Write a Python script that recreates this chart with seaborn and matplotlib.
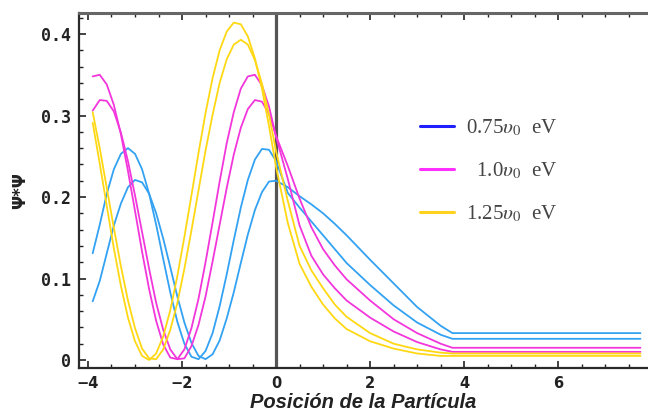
import numpy as np
import pandas as pd
import seaborn as sns
import matplotlib
matplotlib.use("Agg")
import matplotlib.pyplot as plt
from matplotlib.lines import Line2D
from matplotlib.ticker import MultipleLocator, FuncFormatter

# Positions (inside the well, then the decaying tail and the flat end)
x_pos = [-3.90, -3.75, -3.60, -3.45, -3.30, -3.15, -3.00, -2.85, -2.70, -2.55,
         -2.40, -2.25, -2.10, -1.95, -1.80, -1.65, -1.50, -1.35, -1.20, -1.05,
         -0.90, -0.75, -0.60, -0.45, -0.30, -0.15, 0.00,
         0.25, 0.50, 0.75, 1.00, 1.25, 1.50, 2.00, 2.50, 3.00, 3.50, 3.75, 7.75]

# Probability density for E = 0.75 u0
blue_a = [0.131, 0.166, 0.204, 0.234, 0.253, 0.260, 0.253, 0.234, 0.204, 0.166,
          0.124, 0.083, 0.047, 0.020, 0.004, 0.001, 0.011, 0.033, 0.066, 0.105,
          0.147, 0.187, 0.221, 0.246, 0.259, 0.258, 0.244,
          0.205, 0.187, 0.170, 0.153, 0.136, 0.119, 0.092, 0.067, 0.046, 0.031, 0.026, 0.026]
blue_b = [0.072, 0.097, 0.131, 0.165, 0.192, 0.212, 0.221, 0.218, 0.204, 0.180,
          0.149, 0.114, 0.078, 0.046, 0.021, 0.005, 0.001, 0.007, 0.024, 0.051,
          0.083, 0.119, 0.154, 0.184, 0.206, 0.219, 0.220,
          0.212, 0.201, 0.191, 0.180, 0.167, 0.153, 0.123, 0.094, 0.065, 0.042, 0.033, 0.033]

# Probability density for E = 1.0 u0
pink_a = [0.348, 0.350, 0.338, 0.313, 0.277, 0.232, 0.183, 0.133, 0.087, 0.048,
          0.019, 0.003, 0.001, 0.013, 0.039, 0.075, 0.120, 0.169, 0.219, 0.266,
          0.304, 0.333, 0.348, 0.350, 0.337, 0.311, 0.274,
          0.222, 0.165, 0.128, 0.105, 0.088, 0.073, 0.052, 0.035, 0.022, 0.013, 0.010, 0.010]
pink_b = [0.306, 0.319, 0.318, 0.305, 0.279, 0.244, 0.202, 0.157, 0.112, 0.070,
          0.037, 0.013, 0.001, 0.002, 0.017, 0.043, 0.078, 0.121, 0.166, 0.211,
          0.252, 0.285, 0.308, 0.319, 0.317, 0.302, 0.275,
          0.238, 0.198, 0.163, 0.136, 0.116, 0.099, 0.073, 0.050, 0.033, 0.020, 0.015, 0.015]

# Probability density for E = 1.25 u0
yellow_a = [0.291, 0.241, 0.189, 0.137, 0.091, 0.052, 0.023, 0.005, 0.000, 0.008,
            0.029, 0.061, 0.103, 0.151, 0.202, 0.254, 0.303, 0.346, 0.380, 0.403,
            0.414, 0.412, 0.397, 0.370, 0.333, 0.287, 0.237,
            0.168, 0.118, 0.090, 0.068, 0.051, 0.038, 0.023, 0.014, 0.008, 0.005, 0.005, 0.005]
yellow_b = [0.304, 0.260, 0.211, 0.162, 0.115, 0.073, 0.039, 0.014, 0.002, 0.001,
            0.013, 0.037, 0.070, 0.112, 0.159, 0.208, 0.257, 0.301, 0.340, 0.369,
            0.387, 0.393, 0.387, 0.368, 0.339, 0.301, 0.256,
            0.195, 0.140, 0.110, 0.088, 0.068, 0.053, 0.033, 0.020, 0.013, 0.009, 0.008, 0.008]

legend_labels = [r"0.75$\upsilon_0$  eV", r"  1.0$\upsilon_0$  eV", r"1.25$\upsilon_0$  eV"]
x_ticks = [-4, -2, 0, 2, 4, 6]
y_ticks = [0.0, 0.1, 0.2, 0.3, 0.4]

curve_blue = "#33a2f2"
curve_pink = "#f236dc"
curve_yellow = "#ffd814"

sns.set_style("white")
plt.rcParams["mathtext.fontset"] = "stix"

fig = plt.figure(figsize=(6.48, 4.13), dpi=100)
ax = fig.add_axes([0.122, 0.109, 0.878, 0.8595])

series = [(blue_a, curve_blue), (blue_b, curve_blue),
          (pink_a, curve_pink), (pink_b, curve_pink),
          (yellow_a, curve_yellow), (yellow_b, curve_yellow)]
for values, color in series:
    df = pd.DataFrame({"x": x_pos, "y": values})
    sns.lineplot(data=df, x="x", y="y", color=color, linewidth=1.3,
                 ax=ax, legend=False, sort=False, zorder=3)

ax.axvline(0, color="#555555", linewidth=2.3, zorder=2)

ax.set_xlim(-4.19, 7.91)
ax.set_ylim(-0.0098, 0.4258)

ax.xaxis.set_major_locator(MultipleLocator(2))
ax.xaxis.set_minor_locator(MultipleLocator(0.5))
ax.yaxis.set_major_locator(MultipleLocator(0.1))
ax.yaxis.set_minor_locator(MultipleLocator(0.02))
ax.set_xticks(x_ticks)
ax.set_yticks(y_ticks)
ax.yaxis.set_major_formatter(FuncFormatter(lambda v, p: "0" if abs(v) < 1e-9 else f"{v:.1f}"))
ax.xaxis.set_major_formatter(FuncFormatter(lambda v, p: f"{int(round(v))}".replace("-", "\u2212")))

ax.tick_params(axis="x", which="both", direction="in", top=True, bottom=True,
               color="#222222", pad=6)
ax.tick_params(axis="y", which="both", direction="in", left=True, right=False,
               color="#222222", pad=6)
ax.tick_params(which="major", length=5, width=1.2)
ax.tick_params(which="minor", length=3, width=1.0)
for lab in ax.get_yticklabels():
    lab.set_fontfamily("DejaVu Sans Mono")
    lab.set_fontweight("bold")
    lab.set_fontsize(12)
    lab.set_color("#222222")
for lab in ax.get_xticklabels():
    lab.set_fontfamily("DejaVu Sans")
    lab.set_fontweight("bold")
    lab.set_fontsize(10.5)
    lab.set_color("#222222")

for side in ["left", "bottom"]:
    ax.spines[side].set_color("#2a2a2a")
    ax.spines[side].set_linewidth(1.6)
ax.spines["top"].set_color("#666666")
ax.spines["top"].set_linewidth(2.2)
ax.spines["right"].set_visible(False)

ax.set_xlabel("Posición de la Partícula", fontsize=14.5, fontweight="bold",
              style="italic", family="Liberation Sans", color="#222222", labelpad=1)
ax.set_ylabel("Ψ*Ψ", fontsize=12, fontweight="bold", color="#222222", labelpad=8)

handles = [Line2D([], [], color="#2020ff", linewidth=2.2),
           Line2D([], [], color="#ff30ff", linewidth=2.2),
           Line2D([], [], color="#ffd21e", linewidth=2.2)]
leg = ax.legend(handles, legend_labels, loc="upper left",
                bbox_to_anchor=(0.567, 0.757), frameon=False,
                prop={"family": "Liberation Serif", "size": 15},
                handlelength=1.6, handletextpad=0.6, labelspacing=1.05)
for t in leg.get_texts():
    t.set_color("#444444")

fig.savefig("out.png", dpi=100)
